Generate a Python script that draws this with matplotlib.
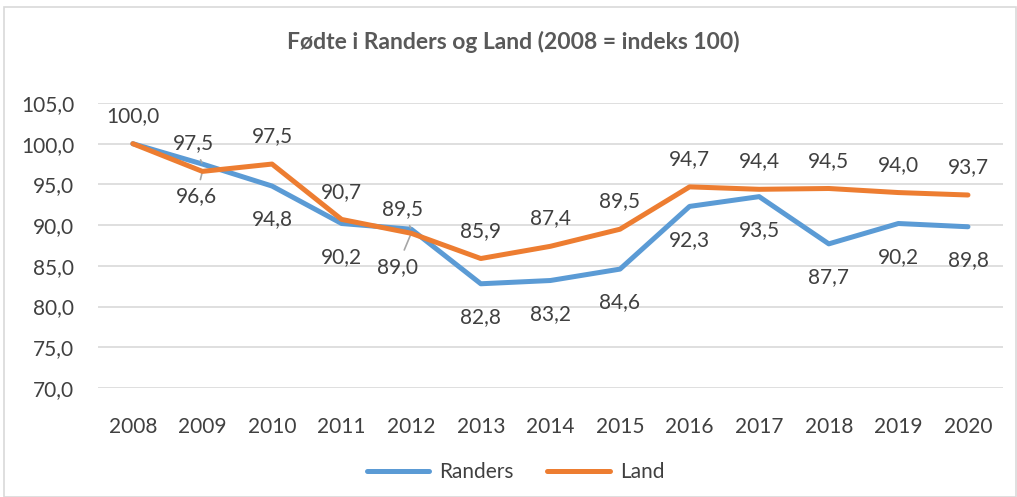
import matplotlib.pyplot as plt
from matplotlib.patches import Rectangle

plt.rcParams['font.family'] = ['Lato', 'DejaVu Sans']

years = ['2008', '2009', '2010', '2011', '2012', '2013', '2014',
         '2015', '2016', '2017', '2018', '2019', '2020']
randers = [100.0, 97.5, 94.8, 90.2, 89.5, 82.8, 83.2, 84.6, 92.3, 93.5, 87.7, 90.2, 89.8]
land = [100.0, 96.6, 97.5, 90.7, 89.0, 85.9, 87.4, 89.5, 94.7, 94.4, 94.5, 94.0, 93.7]

BLUE = '#5B9BD5'
ORANGE = '#ED7D31'
TXT = '#404040'
FS = 15

fig = plt.figure(figsize=(10.17, 4.97), dpi=100)
ax = fig.add_axes([0.0964, 0.2193, 0.8896, 0.5735])

x = list(range(len(years)))
ax.plot(x, randers, color=BLUE, linewidth=3.6, label='Randers', solid_capstyle='round', zorder=3)
ax.plot(x, land, color=ORANGE, linewidth=3.6, label='Land', solid_capstyle='round', zorder=4)

ax.set_xlim(-0.5, len(years) - 0.5)
ax.set_ylim(70, 105)
ax.set_yticks(range(70, 106, 5))
ax.set_yticklabels([f'{v:.1f}'.replace('.', ',') for v in range(70, 106, 5)])
ax.set_xticks(x)
ax.set_xticklabels(years)
ax.tick_params(length=0, labelsize=FS, colors=TXT)
ax.tick_params(axis='x', pad=21)
ax.tick_params(axis='y', pad=17)
ax.grid(axis='y', color='#D9D9D9', linewidth=1.2)
for s in ax.spines.values():
    s.set_visible(False)


def fmt(v):
    return f'{v:.1f}'.replace('.', ',')


# data labels: Land above, Randers below (Excel-like)
for i in range(len(years)):
    if i == 0:
        ax.annotate(fmt(land[i]), (i, land[i]), xytext=(0, 20), textcoords='offset points',
                    ha='center', va='center', fontsize=FS, color=TXT)
        continue
    if i in (1, 4):
        continue
    ax.annotate(fmt(land[i]), (i, land[i]), xytext=(0, 20), textcoords='offset points',
                ha='center', va='center', fontsize=FS, color=TXT)
    ax.annotate(fmt(randers[i]), (i, randers[i]), xytext=(0, -24), textcoords='offset points',
                ha='center', va='center', fontsize=FS, color=TXT)

# labels with leader lines
lead = dict(arrowstyle='-', color='#A6A6A6', lw=1.2, shrinkA=3, shrinkB=1)
ax.annotate(fmt(randers[1]), (1, randers[1]), xytext=(-6.5, 15), textcoords='offset points',
            ha='center', va='center', fontsize=FS, color=TXT, arrowprops=lead)
ax.annotate(fmt(land[1]), (1, land[1]), xytext=(-4.5, -18), textcoords='offset points',
            ha='center', va='center', fontsize=FS, color=TXT, arrowprops=lead)
ax.annotate(fmt(randers[4]), (4, randers[4]), xytext=(-6.5, 14.5), textcoords='offset points',
            ha='center', va='center', fontsize=FS, color=TXT, arrowprops=lead)
ax.annotate(fmt(land[4]), (4, land[4]), xytext=(-10, -24), textcoords='offset points',
            ha='center', va='center', fontsize=FS, color=TXT, arrowprops=lead)

fig.text(0.505, 0.915, 'Fødte i Randers og Land (2008 = indeks 100)', ha='center', va='center',
         fontsize=16.5, fontweight='bold', color='#595959')

fig.legend(loc='center', bbox_to_anchor=(0.507, 0.05), ncol=2, frameon=False,
           fontsize=FS, labelcolor=TXT, handlelength=3.0, columnspacing=1.6, handletextpad=0.5)

fig.patches.append(Rectangle((0.004, 0.0), 0.995, 0.986, transform=fig.transFigure,
                             fill=False, edgecolor='#D9D9D9', linewidth=1.2))

fig.savefig('out.png', dpi=100, facecolor='white')
